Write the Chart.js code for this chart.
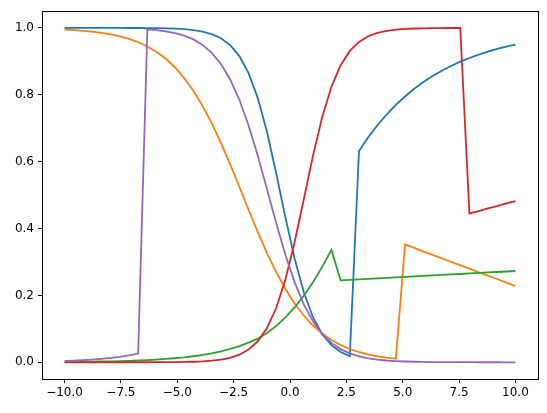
<!DOCTYPE html>
<html>
<head>
<meta charset="utf-8">
<script src="https://cdn.jsdelivr.net/npm/chart.js@4/dist/chart.umd.min.js"></script>
<style>
  body { margin: 0; background: #fff; }
  #wrap { width: 547px; height: 413px; }
</style>
</head>
<body>
<div id="wrap"><canvas id="chart" width="547" height="413"></canvas></div>
<script>
// sample positions along x
const xs = [-10.000, -9.592, -9.184, -8.776, -8.367, -7.959, -7.551, -7.143, -6.735, -6.327,
            -5.918, -5.510, -5.102, -4.694, -4.286, -3.878, -3.469, -3.061, -2.653, -2.245,
            -1.837, -1.429, -1.020, -0.612, -0.204, 0.204, 0.612, 1.020, 1.429, 1.837,
            2.245, 2.653, 3.061, 3.469, 3.878, 4.286, 4.694, 5.102, 5.510, 5.918,
            6.327, 6.735, 7.143, 7.551, 7.959, 8.367, 8.776, 9.184, 9.592, 10.000];

const serieAzul = [1.000, 1.000, 1.000, 1.000, 1.000, 1.000, 0.9999, 0.9998, 0.9997, 0.9995,
                   0.9992, 0.9987, 0.9978, 0.9962, 0.9936, 0.9891, 0.9816, 0.9691, 0.9486, 0.9158,
                   0.8647, 0.7900, 0.6887, 0.5654, 0.4335, 0.3105, 0.2093, 0.1348, 0.0840, 0.0511,
                   0.0307, 0.0183, 0.632, 0.673, 0.709, 0.741, 0.770, 0.795, 0.818, 0.838,
                   0.856, 0.872, 0.886, 0.899, 0.910, 0.920, 0.929, 0.937, 0.944, 0.950];

const serieNaranja = [0.995, 0.9934, 0.9914, 0.9887, 0.9852, 0.9807, 0.9747, 0.9670, 0.9571, 0.9444,
                      0.9281, 0.9076, 0.8819, 0.8504, 0.8123, 0.7669, 0.7145, 0.6556, 0.5917, 0.5242,
                      0.4561, 0.3894, 0.3266, 0.2695, 0.2192, 0.1760, 0.1398, 0.1100, 0.0860, 0.0668,
                      0.0516, 0.0397, 0.0305, 0.0234, 0.0179, 0.0137, 0.0104, 0.352, 0.342, 0.331,
                      0.321, 0.311, 0.300, 0.290, 0.280, 0.269, 0.259, 0.249, 0.238, 0.228];

const serieVerde = [0.0011, 0.0013, 0.0016, 0.0019, 0.0024, 0.0029, 0.0036, 0.0044, 0.0054, 0.0066,
                    0.0081, 0.0099, 0.0121, 0.0147, 0.0180, 0.0220, 0.0269, 0.0327, 0.0398, 0.0484,
                    0.0588, 0.0707, 0.0879, 0.1089, 0.1341, 0.1640, 0.1991, 0.2396, 0.2853, 0.3360,
                    0.2450, 0.2465, 0.2480, 0.2494, 0.2509, 0.2524, 0.2538, 0.2553, 0.2568, 0.2583,
                    0.2597, 0.2612, 0.2627, 0.2641, 0.2656, 0.2671, 0.2686, 0.2700, 0.2715, 0.2730];

const serieRoja = [0.0000, 0.0000, 0.0000, 0.0000, 0.0000, 0.0000, 0.0000, 0.0001, 0.0001, 0.0001,
                   0.0002, 0.0003, 0.0006, 0.0010, 0.0016, 0.0028, 0.0047, 0.0080, 0.0135, 0.0227,
                   0.0380, 0.0628, 0.1024, 0.1623, 0.2478, 0.3589, 0.4877, 0.6180, 0.7336, 0.8239,
                   0.8883, 0.9312, 0.9582, 0.9750, 0.9852, 0.9912, 0.9948, 0.9969, 0.9982, 0.9989,
                   0.9994, 0.9996, 0.9998, 0.9999, 0.445, 0.452, 0.460, 0.467, 0.475, 0.482];

const serieMorada = [0.0040, 0.0051, 0.0064, 0.0081, 0.0102, 0.0129, 0.0163, 0.0206, 0.0260, 0.9954,
                     0.9931, 0.9896, 0.9845, 0.9769, 0.9656, 0.9492, 0.9255, 0.8920, 0.8459, 0.7850,
                     0.7083, 0.6175, 0.5175, 0.4163, 0.3216, 0.2398, 0.1734, 0.1224, 0.0848, 0.0580,
                     0.0394, 0.0265, 0.0178, 0.0119, 0.0079, 0.0053, 0.0035, 0.0023, 0.0016, 0.0010,
                     0.0007, 0.0005, 0.0003, 0.0002, 0.0002, 0.0001, 0.0001, 0.0001, 0.0000, 0.0000];

const xTicks = [-10, -7.5, -5, -2.5, 0, 2.5, 5, 7.5, 10];
const yTicks = [0, 0.2, 0.4, 0.6, 0.8, 1.0];

const colores = ['#1f77b4', '#ff7f0e', '#2ca02c', '#d62728', '#9467bd'];
const series = [serieAzul, serieNaranja, serieVerde, serieRoja, serieMorada];

// etiqueta con signo menos tipografico, como matplotlib
function fmt(v) {
    return v.toFixed(1).replace('-', '\u2212');
}

// marco completo alrededor del area de trazado
const marco = {
    id: 'marco',
    afterDraw(chart) {
        const a = chart.chartArea, ctx = chart.ctx;
        ctx.save();
        ctx.strokeStyle = '#000';
        ctx.lineWidth = 1;
        ctx.strokeRect(Math.round(a.left) + 0.5, Math.round(a.top) + 0.5,
                       Math.round(a.right - a.left), Math.round(a.bottom - a.top));
        ctx.restore();
    }
};

const fuente = { family: 'DejaVu Sans', size: 12 };

new Chart(document.getElementById('chart'), {
    type: 'line',
    data: {
        datasets: series.map((s, i) => ({
            data: xs.map((x, j) => ({ x: x, y: s[j] })),
            borderColor: colores[i],
            backgroundColor: colores[i],
            borderWidth: 1.8,
            pointRadius: 0,
            tension: 0,
            fill: false,
            order: series.length - i
        }))
    },
    options: {
        responsive: false,
        animation: false,
        events: [],
        layout: { padding: { top: 10, right: 9, left: 0, bottom: 0 } },
        plugins: { legend: { display: false }, tooltip: { enabled: false } },
        scales: {
            x: {
                type: 'linear', min: -11, max: 11,
                afterBuildTicks: s => { s.ticks = xTicks.map(v => ({ value: v })); },
                afterFit: s => { s.height = 34; },
                ticks: { callback: v => fmt(v), color: '#000', font: fuente, padding: 3, maxRotation: 0 },
                grid: { drawOnChartArea: false, drawTicks: true, tickLength: 4, color: '#000', lineWidth: 1 },
                border: { color: '#000', width: 1 }
            },
            y: {
                type: 'linear', min: -0.05, max: 1.05,
                afterBuildTicks: s => { s.ticks = yTicks.map(v => ({ value: v })); },
                afterFit: s => { s.width = 42; },
                ticks: { callback: v => fmt(v), color: '#000', font: fuente, padding: 4 },
                grid: { drawOnChartArea: false, drawTicks: true, tickLength: 4, color: '#000', lineWidth: 1 },
                border: { color: '#000', width: 1 }
            }
        }
    },
    plugins: [marco]
});
</script>
</body>
</html>
